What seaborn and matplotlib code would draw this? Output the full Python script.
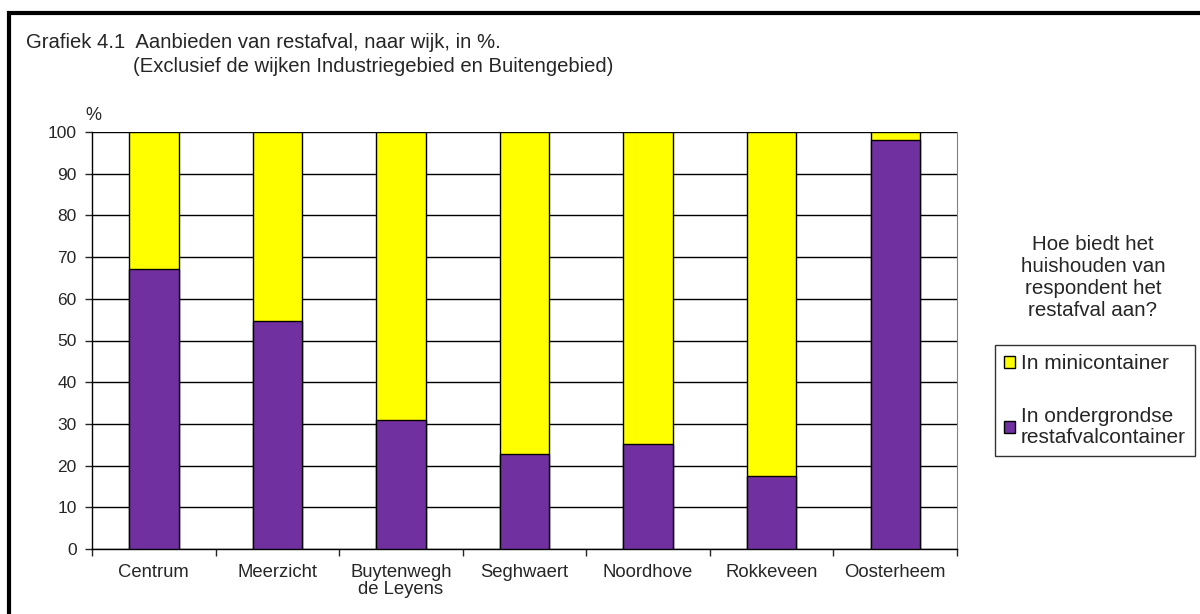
import pandas as pd
import matplotlib.pyplot as plt
import seaborn as sns
from matplotlib.patches import Patch, Rectangle
from matplotlib.ticker import FixedLocator

wijken = ["Centrum", "Meerzicht", "Buytenwegh\nde Leyens", "Seghwaert",
          "Noordhove", "Rokkeveen", "Oosterheem"]
ondergronds = [67.1, 54.7, 30.9, 22.8, 25.2, 17.5, 98.1]
minicontainer = [32.9, 45.3, 69.1, 77.2, 74.8, 82.5, 1.9]

df = pd.DataFrame({"wijk": wijken, "onder": ondergronds, "mini": minicontainer})
df["totaal"] = df["onder"] + df["mini"]

sns.set_style("white")
plt.rcParams["font.family"] = ["Liberation Sans", "DejaVu Sans"]

fig = plt.figure(figsize=(12, 6.14), dpi=100)
ax = fig.add_axes([92 / 1200, 1 - 549 / 614, (957 - 92) / 1200, (549 - 132) / 614])

# yellow stacked on top of purple
sns.barplot(data=df, x="wijk", y="totaal", color="#FFFF00", width=0.4,
            edgecolor="black", linewidth=1, saturation=1, ax=ax, zorder=3)
sns.barplot(data=df, x="wijk", y="onder", color="#7030A0", width=0.4,
            edgecolor="black", linewidth=1, saturation=1, ax=ax, zorder=4)

ax.set_ylim(0, 100)
ax.set_xlim(-0.5, 6.5)
ax.set_yticks(range(0, 101, 10))
ax.yaxis.grid(True, color="black", linewidth=1)
ax.set_axisbelow(True)
ax.set_xlabel("")
ax.set_ylabel("")
for s in ["left", "bottom"]:
    ax.spines[s].set_color("black")
    ax.spines[s].set_linewidth(1)
ax.spines["right"].set_color("#808080")
ax.spines["top"].set_visible(False)

ax.tick_params(axis="y", left=True, length=5, width=1, labelsize=12.5, pad=6)
ax.tick_params(axis="x", which="major", bottom=False, labelsize=13.3, pad=7)
ax.xaxis.set_minor_locator(FixedLocator([i - 0.5 for i in range(8)]))
ax.tick_params(axis="x", which="minor", bottom=True, length=5, width=1)
for t in ax.get_xticklabels():
    t.set_linespacing(1.05)

fig.text(85 / 1200, 1 - 115 / 614, "%", fontsize=13, va="center")

fig.text(26 / 1200, 1 - 43 / 614, "Grafiek 4.1  Aanbieden van restafval, naar wijk, in %.",
         fontsize=14.6, va="center")
fig.text(133 / 1200, 1 - 66 / 614, "(Exclusief de wijken Industriegebied en Buitengebied)",
         fontsize=14.6, va="center")

fig.text(1093 / 1200, 1 - 278 / 614,
         "Hoe biedt het\nhuishouden van\nrespondent het\nrestafval aan?",
         fontsize=14.8, ha="center", va="center", linespacing=1.2)

handles = [Patch(facecolor="#FFFF00", edgecolor="black", label="In minicontainer"),
           Patch(facecolor="#7030A0", edgecolor="black",
                 label="In ondergrondse\nrestafvalcontainer")]
leg = fig.legend(handles=handles, loc="upper left",
                 bbox_to_anchor=(995 / 1200, 1 - 345 / 614),
                 frameon=True, fancybox=False, edgecolor="black", fontsize=15,
                 handlelength=0.5, handleheight=0.5, handletextpad=0.3,
                 labelspacing=1.6, borderaxespad=0, borderpad=0.45)
leg.get_frame().set_linewidth(1)
for t in leg.get_texts():
    t.set_linespacing(1.12)

# outer chart frame
fig.patches.append(Rectangle((9 / 1200, -0.05), 1.2, 1 - 13 / 614 + 0.05,
                             transform=fig.transFigure, fill=False,
                             edgecolor="black", linewidth=3))

fig.savefig("out.png", dpi=100)
